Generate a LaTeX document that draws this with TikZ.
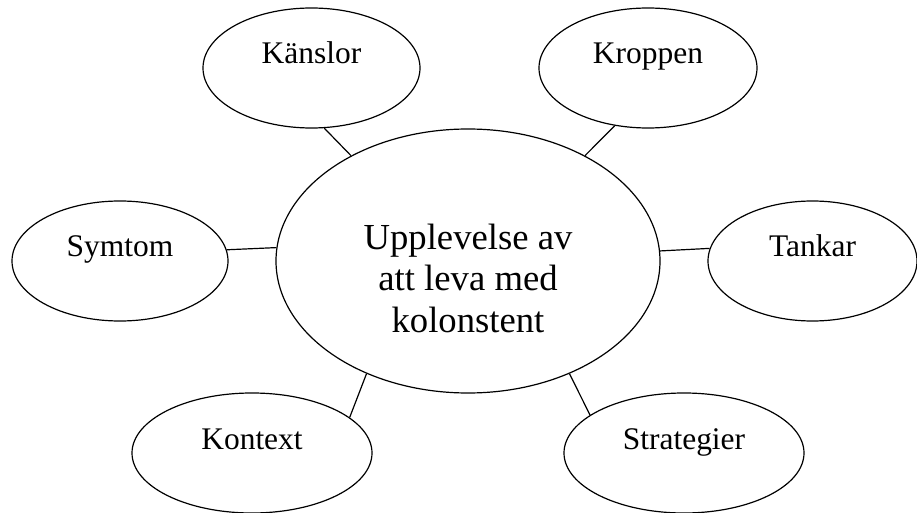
\documentclass[tikz,border=0pt]{standalone}
\usepackage{fontspec}
\setmainfont{Liberation Serif}
\usetikzlibrary{shapes.geometric}

\begin{document}
\begin{tikzpicture}[
    x=0.75pt, y=-0.75pt,
    bubble/.style={draw, ellipse, line width=0.9pt, inner sep=0pt,
                   minimum width=162pt, minimum height=90pt,
                   font=\fontsize{23.6}{28}\selectfont,
                   text height=10pt, text depth=16pt},
    wide/.style={bubble, minimum width=180pt},
    core/.style={draw, ellipse, line width=0.9pt, inner sep=0pt,
                 minimum width=288pt, minimum height=198pt, align=center,
                 font=\fontsize{27.5}{31.1}\selectfont,
                 text height=110pt, text depth=3.5pt},
    link/.style={line width=0.9pt}
]
\useasboundingbox (0,0) rectangle (917,513);
\node[core] (ctr) at (468,261) {Upplevelse av\\att leva med\\kolonstent};
\node[bubble, minimum width=162.75pt] (kan) at (311.5,68) {Känslor};
\node[bubble, minimum width=163.5pt]  (kro) at (648,68)   {Kroppen};
\node[bubble]                         (sym) at (120,261)  {Symtom};
\node[bubble, minimum width=156.75pt] (tan) at (812.5,261) {Tankar};
\node[wide]                           (kon) at (252,453)  {Kontext};
\node[wide]                           (str) at (684,453)  {Strategier};
\draw[link] (kan.282) -- (ctr.138); \draw[link] (kro.240) -- (ctr.42);
\draw[link] (sym.6.5) -- (ctr.176.4); \draw[link] (tan.173.3) -- (ctr.3.6);
\draw[link] (kon.20.6) -- (ctr.228); \draw[link] (str.158.6) -- (ctr.312);
\end{tikzpicture}
\end{document}
